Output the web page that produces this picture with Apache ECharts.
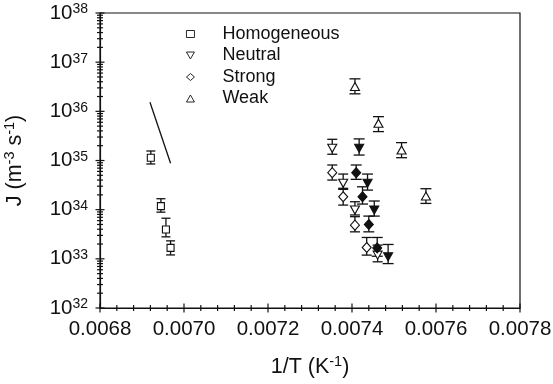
<!DOCTYPE html>
<html>
<head>
<meta charset="utf-8">
<script src="https://cdn.jsdelivr.net/npm/echarts@6/dist/echarts.min.js"></script>
<style>
  html, body { margin: 0; padding: 0; background: #fff; }
  #chart { width: 553px; height: 384px; }
</style>
</head>
<body>
<div id="chart"></div>
<script>
// Nucleation rate J against inverse temperature 1/T

// axis ticks
var xTicks = [0.0068, 0.0070, 0.0072, 0.0074, 0.0076, 0.0078];
var yDecades = [32, 33, 34, 35, 36, 37, 38];

// Homogeneous
var homX  = [0.006921, 0.006945, 0.006957, 0.006968];
var homY  = [1.14e35, 1.18e34, 3.96e33, 1.67e33];
var homLo = [8.5e34, 8.9e33, 2.8e33, 1.2e33];
var homHi = [1.56e35, 1.67e34, 6.7e33, 2.32e33];

// Homogeneous rate line
var lineX = [0.006919, 0.006968];
var lineY = [1.53e36, 8.8e34];

// Neutral (open)
var neuX  = [0.007353, 0.007379, 0.007407, 0.007461];
var neuY  = [1.77e35, 3.43e34, 9.8e33, 1.19e33];
var neuLo = [1.34e35, 2.72e34, 7.8e33, 8.7e32];
var neuHi = [2.7e35, 5.3e34, 1.45e34, 1.9e33];

// Neutral (filled)
var neuFX  = [0.007417, 0.007437, 0.007453, 0.007486];
var neuFY  = [1.77e35, 3.43e34, 9.8e33, 1.1e33];
var neuFLo = [1.29e35, 2.5e34, 7.4e33, 8.0e32];
var neuFHi = [2.75e35, 5.3e34, 1.5e34, 1.96e33];

// Strong (open)
var strX  = [0.007353, 0.007379, 0.007407, 0.007435];
var strY  = [5.65e34, 1.83e34, 4.84e33, 1.7e33];
var strLo = [4.0e34, 1.24e34, 3.54e33, 1.19e33];
var strHi = [8.1e34, 2.59e34, 7.2e33, 2.72e33];

// Strong (filled)
var strFX  = [0.007410, 0.007425, 0.007440, 0.007460];
var strFY  = [5.65e34, 1.83e34, 5.0e33, 1.67e33];
var strFLo = [4.14e34, 1.3e34, 3.54e33, 1.13e33];
var strFHi = [8.1e34, 2.92e34, 7.4e33, 2.72e33];

// Weak
var weakX  = [0.007407, 0.007463, 0.007518, 0.007576];
var weakY  = [3.19e36, 5.73e35, 1.64e35, 1.89e34];
var weakLo = [2.27e36, 3.87e35, 1.14e35, 1.34e34];
var weakHi = [4.58e36, 7.8e35, 2.31e35, 2.67e34];

var FONT = 'Liberation Sans, Arial, Helvetica, sans-serif';
var INK = '#111';
var DOWN_TRI = 'path://M0,0L10,0L5,8.7Z';

function pts(xs, ys) { return xs.map(function (x, i) { return [x, ys[i]]; }); }
function bars(xs, lo, hi) { return xs.map(function (x, i) { return [x, lo[i], hi[i]]; }); }

function errorBarSeries(xs, lo, hi, cap) {
  return {
    type: 'custom',
    silent: true,
    clip: false,
    z: 3,
    data: bars(xs, lo, hi),
    encode: { x: 0, y: [1, 2] },
    renderItem: function (params, api) {
      var a = api.coord([api.value(0), api.value(1)]);
      var b = api.coord([api.value(0), api.value(2)]);
      var st = { stroke: INK, lineWidth: 1.3 };
      return {
        type: 'group',
        children: [
          { type: 'line', shape: { x1: a[0], y1: a[1], x2: b[0], y2: b[1] }, style: st },
          { type: 'line', shape: { x1: a[0] - cap / 2, y1: a[1], x2: a[0] + cap / 2, y2: a[1] }, style: st },
          { type: 'line', shape: { x1: b[0] - cap / 2, y1: b[1], x2: b[0] + cap / 2, y2: b[1] }, style: st }
        ]
      };
    }
  };
}

function markerSeries(name, xs, ys, symbol, size, filled) {
  return {
    name: name,
    type: 'scatter',
    z: 4,
    symbol: symbol,
    symbolSize: size,
    data: pts(xs, ys),
    itemStyle: { color: filled ? INK : '#fff', borderColor: INK, borderWidth: 1.1, opacity: 1 },
    emphasis: { disabled: true }
  };
}

// tick marks crossing the axis lines
var yTickData = [];
yDecades.forEach(function (d, i) {
  yTickData.push([xTicks[0], Math.pow(10, d), 1]);
  if (i < yDecades.length - 1) {
    for (var k = 2; k <= 9; k++) yTickData.push([xTicks[0], k * Math.pow(10, d), 0]);
  }
});
var xTickData = [];
xTicks.forEach(function (t, i) {
  xTickData.push([t, 1e32, 1]);
  if (i < xTicks.length - 1) {
    for (var k = 1; k <= 4; k++) xTickData.push([+(t + k * 0.00004).toFixed(6), 1e32, 0]);
  }
});

function tickSeries(data, vertical) {
  return {
    type: 'custom',
    silent: true,
    clip: false,
    z: 5,
    data: data,
    renderItem: function (params, api) {
      var p = api.coord([api.value(0), api.value(1)]);
      var len = api.value(2) ? 4.5 : 3;
      var shape = vertical
        ? { x1: p[0] - len, y1: p[1], x2: p[0] + len, y2: p[1] }
        : { x1: p[0], y1: p[1] - len, x2: p[0], y2: p[1] + len };
      return { type: 'line', shape: shape, style: { stroke: INK, lineWidth: 1.2 } };
    }
  };
}

var titleRich = {
  t: { fontFamily: FONT, fontSize: 21.5, color: INK, lineHeight: 24, verticalAlign: 'bottom' },
  s: { fontFamily: FONT, fontSize: 14.5, color: INK, lineHeight: 14, verticalAlign: 'top' }
};

var chart = echarts.init(document.getElementById('chart'), null, { renderer: 'canvas' });

chart.setOption({
  backgroundColor: '#fff',
  animation: false,
  textStyle: { fontFamily: FONT, color: INK },
  grid: {
    left: 100, right: 33, top: 13, bottom: 76,
    containLabel: false,
    outerBoundsMode: 'none',
    show: true, borderColor: INK, borderWidth: 1.2, backgroundColor: 'transparent'
  },
  legend: {
    show: true,
    data: ['Homogeneous', 'Neutral', 'Strong', 'Weak'],
    orient: 'vertical',
    left: 181, top: 20,
    itemWidth: 8, itemHeight: 7,
    itemGap: 3.5,
    selectedMode: false,
    itemStyle: { color: '#fff', borderColor: INK, borderWidth: 0.9 },
    textStyle: { fontFamily: FONT, fontSize: 18, color: INK, padding: [0, 0, 0, 23] }
  },
  xAxis: {
    type: 'value',
    min: 0.0068, max: 0.0078, interval: 0.0002,
    name: '{t|1/T (K}{s|-1}{t|)}',
    nameLocation: 'middle',
    nameGap: 46,
    nameTextStyle: { rich: titleRich },
    axisLine: { show: true, lineStyle: { color: INK, width: 1.2 } },
    axisTick: { show: false },
    splitLine: { show: false },
    axisLabel: {
      margin: 11,
      fontFamily: FONT, fontSize: 20.5, color: INK,
      formatter: function (v) { return v.toFixed(4); }
    }
  },
  yAxis: {
    type: 'log',
    logBase: 10,
    min: 1e32, max: 1e38,
    splitNumber: 6,
    name: '{t|J (m}{s|-3}{t| s}{s|-1}{t|)}',
    nameLocation: 'middle',
    nameGap: 74,
    nameRotate: 90,
    nameTextStyle: { rich: titleRich },
    axisLine: { show: true, lineStyle: { color: INK, width: 1.2 } },
    axisTick: { show: false },
    splitLine: { show: false },
    axisLabel: {
      margin: 12,
      formatter: function (v) {
        return '{b|10}{s|' + Math.round(Math.log10(v)) + '}';
      },
      rich: {
        b: { fontFamily: FONT, fontSize: 20.5, color: INK, lineHeight: 21, verticalAlign: 'bottom', padding: [6, 0, 0, 0] },
        s: { fontFamily: FONT, fontSize: 14, color: INK, lineHeight: 14, verticalAlign: 'top' }
      }
    }
  },
  series: [
    tickSeries(yTickData, true),
    tickSeries(xTickData, false),
    {
      type: 'line',
      silent: true,
      data: pts(lineX, lineY),
      symbol: 'none',
      lineStyle: { color: INK, width: 1.3 },
      z: 3
    },
    errorBarSeries(homX, homLo, homHi, 9),
    errorBarSeries(neuX, neuLo, neuHi, 10),
    errorBarSeries(neuFX, neuFLo, neuFHi, 11),
    errorBarSeries(strX, strLo, strHi, 10),
    errorBarSeries(strFX, strFLo, strFHi, 11),
    errorBarSeries(weakX, weakLo, weakHi, 11),
    markerSeries('Homogeneous', homX, homY, 'rect', 7, false),
    markerSeries('Neutral', neuX, neuY, DOWN_TRI, [9, 8], false),
    markerSeries('Neutral (filled)', neuFX, neuFY, DOWN_TRI, [9, 8], true),
    markerSeries('Strong', strX, strY, 'diamond', [9, 10], false),
    markerSeries('Strong (filled)', strFX, strFY, 'diamond', [9, 10], true),
    markerSeries('Weak', weakX, weakY, 'triangle', [9, 8], false)
  ]
});
</script>
</body>
</html>
